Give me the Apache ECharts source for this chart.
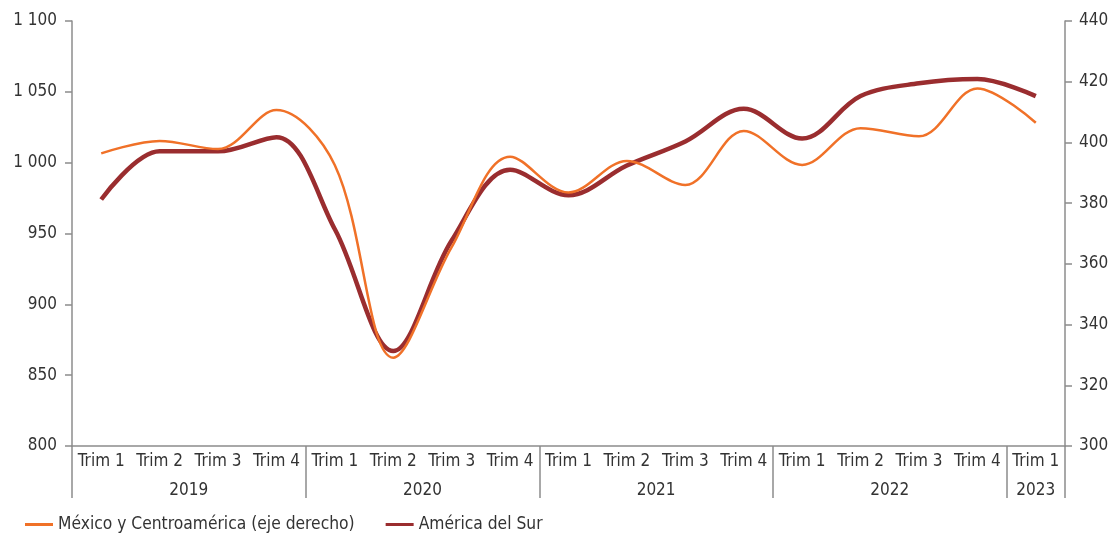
<!DOCTYPE html>
<html>
<head>
<meta charset="utf-8">
<script src="https://cdn.jsdelivr.net/npm/echarts@6/dist/echarts.min.js"></script>
<style>
  html, body { margin: 0; padding: 0; background: #fff; }
  #chart { width: 1113px; height: 541px; }
</style>
</head>
<body>
<div id="chart"></div>
<script>
// quarters and the year each group of quarters belongs to
const quarters = ['Trim 1','Trim 2','Trim 3','Trim 4','Trim 1','Trim 2','Trim 3','Trim 4',
  'Trim 1','Trim 2','Trim 3','Trim 4','Trim 1','Trim 2','Trim 3','Trim 4','Trim 1'];
const years = ['2019','2020','2021','2022','2023'];
const yearSizes = [4, 4, 4, 4, 1];

// América del Sur (left axis)
const surValues = [974, 1008, 1008, 1018, 953, 867, 945, 995, 977, 998, 1015, 1038,
  1017, 1047, 1056, 1059, 1047];
// México y Centroamérica (right axis)
const mexValues = [396.4, 400.5, 397.8, 410.7, 392.5, 329.1, 365.5, 395.3, 383.5, 393.9,
  386, 403.8, 392.6, 404.7, 402, 417.8, 406.5];

const font = '"DejaVu Sans Condensed", "Liberation Sans Narrow", sans-serif';
const textColor = '#333';
const axisColor = '#8c8c8c';

// year boundaries and centres on a 0..17 scale
const bounds = [0];
yearSizes.forEach(s => bounds.push(bounds[bounds.length - 1] + s));
const centers = yearSizes.map((s, i) => bounds[i] + s / 2);

const thousands = v => String(v).replace(/\B(?=(\d{3})+(?!\d))/g, ' ');

const chart = echarts.init(document.getElementById('chart'));
chart.setOption({
  animation: false,
  grid: { left: 72, right: 48, top: 21, bottom: 95 },
  legend: {
    left: 20, bottom: 3,
    icon: 'rect', itemWidth: 28, itemHeight: 3, itemGap: 31,
    textStyle: { fontFamily: font, fontSize: 17.3, color: textColor },
    data: ['México y Centroamérica (eje derecho)', 'América del Sur']
  },
  xAxis: [
    {
      type: 'category',
      data: quarters,
      axisLine: { lineStyle: { color: axisColor, width: 1.5 } },
      axisTick: { interval: 0, length: 22, lineStyle: { color: axisColor, width: 1.5 } },
      axisLabel: { interval: 0, margin: 7, fontFamily: font, fontSize: 17, color: textColor }
    },
    {
      type: 'value',
      position: 'bottom',
      min: 0, max: bounds[bounds.length - 1],
      splitLine: { show: false },
      axisLine: { show: false },
      axisTick: { show: true, length: 52, customValues: bounds, lineStyle: { color: axisColor, width: 1.5 } },
      axisLabel: {
        customValues: centers, margin: 36,
        fontFamily: font, fontSize: 17, color: textColor,
        formatter: v => years[centers.indexOf(v)] || ''
      }
    }
  ],
  yAxis: [
    {
      type: 'value', min: 800, max: 1100, interval: 50,
      splitLine: { show: false },
      axisLine: { show: true, lineStyle: { color: axisColor, width: 1.5 } },
      axisTick: { show: true, length: 7, lineStyle: { color: axisColor, width: 1.5 } },
      axisLabel: { margin: 15, fontFamily: font, fontSize: 17, color: textColor, formatter: thousands }
    },
    {
      type: 'value', min: 300, max: 440, interval: 20, position: 'right',
      splitLine: { show: false },
      axisLine: { show: true, lineStyle: { color: axisColor, width: 1.5 } },
      axisTick: { show: true, length: 7, lineStyle: { color: axisColor, width: 1.5 } },
      axisLabel: { margin: 14, fontFamily: font, fontSize: 17, color: textColor }
    }
  ],
  series: [
    {
      name: 'México y Centroamérica (eje derecho)',
      type: 'line', xAxisIndex: 0, yAxisIndex: 1,
      data: mexValues, smooth: 0.35, showSymbol: false,
      color: '#F07128',
      lineStyle: { width: 2.5, color: '#F07128' },
      z: 3
    },
    {
      name: 'América del Sur',
      type: 'line', xAxisIndex: 0, yAxisIndex: 0,
      data: surValues, smooth: 0.35, showSymbol: false,
      color: '#9A2D2F',
      lineStyle: { width: 4.5, color: '#9A2D2F' },
      z: 2
    }
  ]
});
</script>
</body>
</html>
